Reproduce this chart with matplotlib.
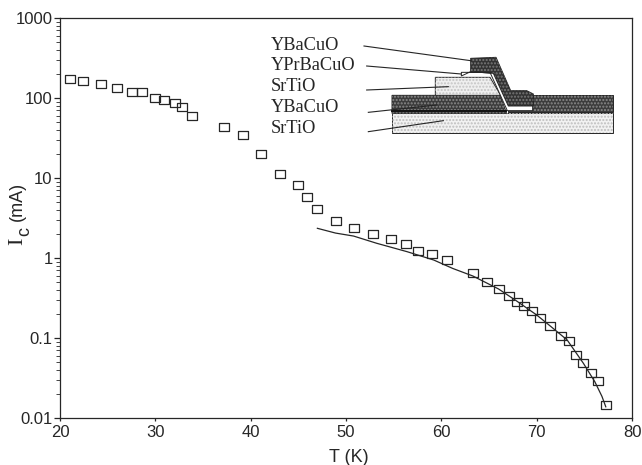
import matplotlib
matplotlib.use("Agg")
import matplotlib.pyplot as plt
from matplotlib.patches import Polygon
from matplotlib.path import Path
from matplotlib.ticker import LogLocator, NullFormatter, FixedLocator, FixedFormatter

temp_points = [21.0, 22.4, 24.3, 25.95, 27.6, 28.6, 29.97, 30.9, 32.1, 32.8, 33.85, 37.2, 39.2,
               41.1, 43.1, 45.0, 45.9, 47.0, 48.9, 50.85, 52.84, 54.7, 56.3, 57.5, 59.0, 60.6,
               63.3, 64.8, 66.0, 67.15, 67.9, 68.7, 69.5, 70.3, 71.4, 72.6, 73.4, 74.1, 74.9,
               75.7, 76.45, 77.25]
ic_points = [171, 163, 148, 132, 119, 118, 101, 94, 86, 77, 60, 43, 34.5,
             20, 11.2, 8.2, 5.8, 4.1, 2.9, 2.37, 2.0, 1.73, 1.5, 1.23, 1.12, 0.944,
             0.65, 0.497, 0.41, 0.338, 0.282, 0.253, 0.219, 0.179, 0.142, 0.107, 0.0925,
             0.0613, 0.0483, 0.0365, 0.029, 0.0145]
temp_line = [47.0, 48.9, 50.8, 53.2, 56.4, 59.2, 61.2, 63.3, 66.0, 67.9, 70.0, 71.4, 73.2, 74.9, 76.1, 76.85, 77.25]
ic_line = [2.35, 2.05, 1.88, 1.53, 1.2, 0.944, 0.74, 0.596, 0.41, 0.29, 0.194, 0.142, 0.0944, 0.0483, 0.0284, 0.0186, 0.0138]

x_ticks = [20, 30, 40, 50, 60, 70, 80]
y_ticks = [0.01, 0.1, 1, 10, 100, 1000]
y_tick_labels = ["0.01", "0.1", "1", "10", "100", "1000"]
layer_names = ["YBaCuO", "YPrBaCuO", "SrTiO", "YBaCuO", "SrTiO"]

W, H = 642, 465
fig = plt.figure(figsize=(W / 100, H / 100), dpi=100, facecolor="white")
ax = fig.add_axes([60 / W, 1 - 418 / H, 572 / W, 400 / H])
ink = "#262626"
ax.set_yscale("log")
ax.set_xlim(20, 80)
ax.set_ylim(0.01, 1000)
box = Path([(-0.5, -0.39), (0.5, -0.39), (0.5, 0.39), (-0.5, 0.39), (-0.5, -0.39)], closed=True)
ax.plot(temp_line, ic_line, color=ink, lw=0.9, zorder=2)
ax.plot(temp_points, ic_points, ls="none", marker=box, ms=6.6, mfc="none", mec=ink, mew=0.9, zorder=3)
ax.xaxis.set_major_locator(FixedLocator(x_ticks))
ax.xaxis.set_major_formatter(FixedFormatter([str(t) for t in x_ticks]))
ax.yaxis.set_major_locator(FixedLocator(y_ticks))
ax.yaxis.set_major_formatter(FixedFormatter(y_tick_labels))
ax.yaxis.set_minor_locator(LogLocator(base=10, subs=range(2, 10), numticks=12))
ax.yaxis.set_minor_formatter(NullFormatter())
ax.tick_params(axis="y", which="major", direction="out", length=4.3, width=0.9, color=ink,
               labelsize=12, labelcolor=ink, pad=1)
ax.tick_params(axis="y", which="minor", direction="out", length=3.0, width=0.6, color=ink)
ax.tick_params(axis="x", which="major", direction="out", length=2.2, width=0.9, color=ink,
               labelsize=12, labelcolor=ink, pad=3)
for lab in ax.get_xticklabels() + ax.get_yticklabels():
    lab.set_fontfamily("Liberation Sans")
for s in ax.spines.values():
    s.set_color(ink)
    s.set_linewidth(0.9)
fig.text(349 / W, 1 - 457 / H, "T (K)", ha="center", va="center", fontsize=13,
         family="Liberation Sans", color=ink)
fig.text(17.5 / W, 1 - 241 / H, "I", rotation=90, ha="center", va="center", fontsize=16,
         family="Liberation Serif", color=ink)
fig.text(25 / W, 1 - 231 / H, "c", rotation=90, ha="center", va="center", fontsize=13,
         family="Liberation Sans", color=ink)
fig.text(17 / W, 1 - 201 / H, "(mA)", rotation=90, ha="center", va="center", fontsize=13,
         family="Liberation Sans", color=ink)

# inset schematic: overlay axes in figure pixels
ov = fig.add_axes([0, 0, 1, 1], facecolor="none")
ov.set_xlim(0, W)
ov.set_ylim(H, 0)
ov.axis("off")


def P(*pts):
    return [(240 + x / 3, 30 + y / 3) for x, y in pts]


def poly(pts, fc, z, speck=None):
    ov.add_patch(Polygon(P(*pts), closed=True, fc=fc, ec=ink, lw=0.7, zorder=z))
    if speck:
        ov.add_patch(Polygon(P(*pts), closed=True, fc="none", ec=speck, lw=0, hatch=".....", zorder=z))


poly([(456, 250), (1120, 250), (1120, 308), (456, 308)], "#f2f2f2", 5, "#bdbdbd")
poly([(456, 196), (780, 196), (800, 250), (456, 250)], "#3c3c3c", 6, "#8a8a8a")
poly([(805, 228), (880, 228), (880, 196), (1120, 196), (1120, 246), (880, 246), (805, 246)], "#3c3c3c", 6, "#8a8a8a")
poly([(586, 196), (586, 142), (750, 142), (782, 196)], "#efefef", 7, "#c4c4c4")
poly([(692, 85), (768, 82), (812, 182), (860, 182), (880, 192), (880, 228), (805, 228), (760, 130), (692, 125)], "#333333", 8, "#7a7a7a")
poly([(664, 138), (664, 127), (750, 127), (802, 242), (878, 242), (878, 228), (805, 228), (760, 130), (692, 125)], "white", 9)
ov.plot(*zip(*P((456, 244), (798, 244))), color="#111111", lw=1.4, zorder=10)

for name, y in zip(layer_names, [47, 108, 170, 232, 295]):
    ov.text(240 + 92 / 3, 30 + y / 3, name, ha="left", va="center", fontsize=13.2,
            family="Liberation Serif", color=ink, zorder=11)
leaders = [((372, 48), (692, 92)), ((380, 108), (664, 132)), ((380, 180), (625, 170)),
           ((385, 247), (590, 225)), ((385, 305), (610, 272))]
for a, b in leaders:
    ov.plot(*zip(*P(a, b)), color=ink, lw=0.8, zorder=11)

fig.savefig("out.png", dpi=100, facecolor="white")
